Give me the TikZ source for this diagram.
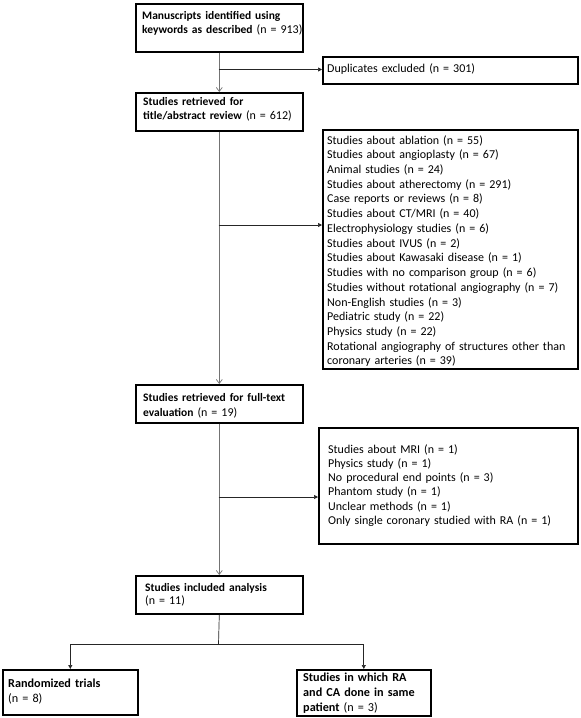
\documentclass[tikz,border=0pt]{standalone}
\usepackage{fontspec}
\setmainfont{Carlito}
\newfontfamily\tightfont{Carlito}[WordSpace=0.55]
\usetikzlibrary{arrows.meta}
\newcommand{\ttl}[1]{{\tightfont\bfseries\fontsize{11.5}{14}\selectfont #1}}
\begin{document}
\begin{tikzpicture}[x=1pt,y=-1pt,
  box/.style={draw=black, line width=1.6pt, inner sep=0pt, anchor=north west},
  txt/.style={anchor=base west, inner sep=0pt, text width=270pt, align=left, font=\fontsize{12}{14.65}\selectfont},
  trunk/.style={draw=black!55, line width=0.7pt},
  conn/.style={draw=black!85, line width=0.7pt},
  openarr/.style={-{Straight Barb[length=4pt,width=6pt]}},
  fillarr/.style={-{Triangle[length=4pt,width=4pt]}}]
\useasboundingbox[fill=white] (0,0) rectangle (581,718);

% boxes
\node[box, minimum width=167pt, minimum height=48pt] (b1) at (135,3) {};
\node[box, minimum width=255pt, minimum height=27pt] (dup) at (322,56) {};
\node[box, minimum width=167pt, minimum height=38pt] (b2) at (135,92) {};
\node[box, minimum width=255pt, minimum height=239pt] (ex1) at (322,129) {};
\node[box, minimum width=167pt, minimum height=38pt] (b3) at (135,384) {};
\node[box, minimum width=259pt, minimum height=116pt] (ex2) at (318,427) {};
\node[box, minimum width=167pt, minimum height=38pt] (b4) at (135,575) {};
\node[box, minimum width=135pt, minimum height=45pt] (rand) at (2,669) {};
\node[box, minimum width=134pt, minimum height=46pt] (same) at (296,669) {};

% texts
\node[txt, font=\fontsize{12}{14}\selectfont] (t1) at (142,19) {\ttl{Manuscripts identified using}\\\ttl{keywords as described} (n = 913)};
\node[txt] (tdup) at (327,72) {Duplicates excluded (n = 301)};
\node[txt, font=\fontsize{12}{14}\selectfont] (t2) at (143,105) {\ttl{Studies retrieved for}\\\ttl{title/abstract review} (n = 612)};
\node[txt, font=\fontsize{12}{14.73}\selectfont] (tex1) at (327,144) {Studies about ablation (n = 55)\\
Studies about angioplasty (n = 67)\\
Animal studies (n = 24)\\
Studies about atherectomy (n = 291)\\
Case reports or reviews (n = 8)\\
Studies about CT/MRI (n = 40)\\
Electrophysiology studies (n = 6)\\
Studies about IVUS (n = 2)\\
Studies about Kawasaki disease (n = 1)\\
Studies with no comparison group (n = 6)\\
Studies without rotational angiography (n = 7)\\
Non-English studies (n = 3)\\
Pediatric study (n = 22)\\
Physics study (n = 22)\\
Rotational angiography of structures other than\\
coronary arteries (n = 39)};
\node[txt, font=\fontsize{12}{15}\selectfont] (t3) at (143,401) {\ttl{Studies retrieved for full-text}\\\ttl{evaluation} (n = 19)};
\node[txt, font=\fontsize{12}{14.3}\selectfont] (tex2) at (328,453) {Studies about MRI (n = 1)\\
Physics study (n = 1)\\
No procedural end points (n = 3)\\
Phantom study (n = 1)\\
Unclear methods (n = 1)\\
Only single coronary studied with RA (n = 1)};
\node[txt, font=\fontsize{12}{13}\selectfont] (t4) at (145,591) {\ttl{Studies included analysis}\\(n = 11)};
\node[txt, font=\fontsize{12.2}{15}\selectfont] (trand) at (8,687) {\textbf{Randomized trials}\\(n = 8)};
\node[txt, font=\fontsize{12.2}{15}\selectfont] (tsame) at (303,681) {\textbf{Studies in which RA}\\\textbf{and CA done in same}\\\textbf{patient} (n = 3)};

% connectors
\coordinate (j1) at (218.5,69.5);
\coordinate (j2) at (218.5,225);
\coordinate (j3) at (218.5,497);
\coordinate (j4) at (218.5,644);
\draw[trunk, openarr] (b1.south) -- (b2.north);
\draw[conn, fillarr] (j1) -- (j1 -| dup.west);
\draw[trunk, openarr] (b2.south) -- (b3.north);
\draw[conn, fillarr] (j2) -- (j2 -| ex1.west);
\draw[trunk, openarr] (b3.south) -- (b4.north);
\draw[conn, fillarr] (j3) -- (j3 -| ex2.west);
\draw[conn] (b4.south) -- (j4);
\draw[conn, fillarr] (j4) -| (rand.north);
\draw[conn, fillarr] (j4) -| (same.north);
\end{tikzpicture}
\end{document}
